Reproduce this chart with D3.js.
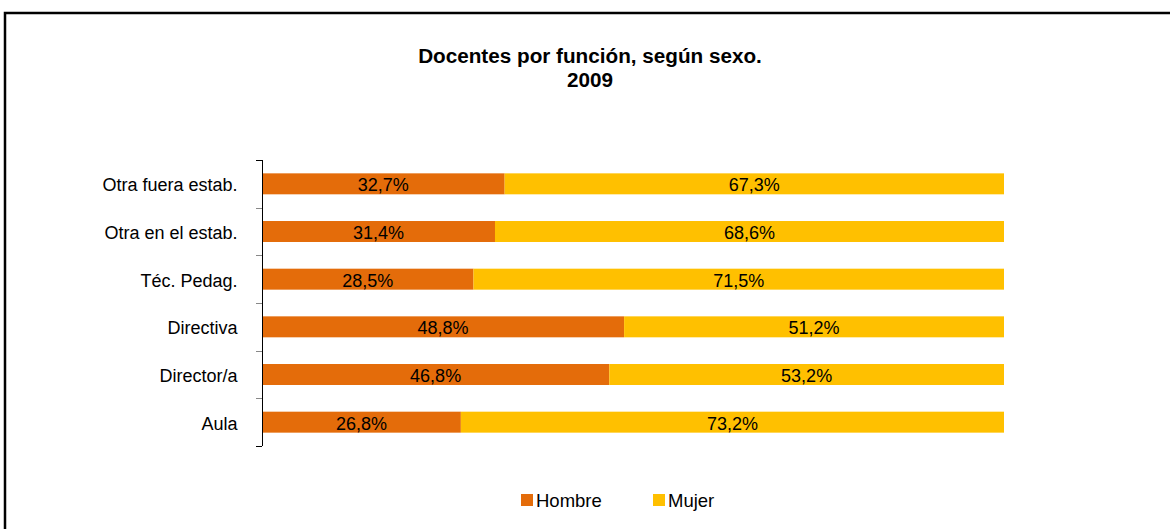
<!DOCTYPE html>
<html><head><meta charset="utf-8">
<script src="https://cdn.jsdelivr.net/npm/d3@7"></script>
<style>body{margin:0;background:#fff}svg{display:block}</style>
</head><body>
<svg id="c" width="1170" height="529"></svg>
<script>
const categories = ["Otra fuera estab.","Otra en el estab.","Téc. Pedag.","Directiva","Director/a","Aula"];
const hombre = [32.7,31.4,28.5,48.8,46.8,26.8];
const mujer  = [67.3,68.6,71.5,51.2,53.2,73.2];
const seriesNames = ["Hombre","Mujer"];
const colors = ["#E46C0A","#FFC000"];
const titleLines = ["Docentes por función, según sexo.","2009"];

const svg = d3.select("#c");
const font = "Liberation Sans, Arial, sans-serif";

// outer border
svg.append("path").attr("d","M5,540 L5,13 L1175,13").attr("fill","none").attr("stroke","#000").attr("stroke-width",2.5);

// title
svg.append("g").selectAll("text").data(titleLines).join("text")
  .attr("x",590).attr("y",(d,i)=>62.5+i*24).attr("text-anchor","middle")
  .attr("font-family",font).attr("font-weight","bold").attr("font-size",20.7).text(d=>d);

const x = d3.scaleLinear().domain([0,100]).range([262,1004]);
const y = d3.scaleBand().domain(categories).range([160,446]).paddingInner(0.56).paddingOuter(0.28);
const y0 = d3.scaleBand().domain(categories).range([160,446]);

const data = categories.map((c,i)=>({cat:c, Hombre:hombre[i], Mujer:mujer[i]}));
const stack = d3.stack().keys(seriesNames)(data);

const g = svg.append("g");
stack.forEach((s,k)=>{
  g.selectAll(null).data(s).join("rect")
    .attr("x",d=>x(d[0])).attr("width",d=>x(d[1])-x(d[0]))
    .attr("y",d=>y(d.data.cat)).attr("height",y.bandwidth())
    .attr("fill",colors[k]);
  g.selectAll(null).data(s).join("text")
    .attr("x",d=>(x(d[0])+x(d[1]))/2).attr("y",d=>y(d.data.cat)+y.bandwidth()/2+7.5)
    .attr("text-anchor","middle").attr("font-family",font).attr("font-size",18).attr("fill","#000")
    .text(d=>(d[1]-d[0]).toFixed(1).replace(".",",")+"%");
});

// axis
const ax = svg.append("g");
ax.append("line").attr("x1",262.5).attr("x2",262.5).attr("y1",160).attr("y2",446).attr("stroke","#000");
const tickYs = categories.map(c=>y0(c)).concat([446]);
ax.selectAll(null).data(tickYs).join("line")
  .attr("x1",256).attr("x2",262).attr("y1",d=>Math.round(d)+0.5).attr("y2",d=>Math.round(d)+0.5)
  .attr("stroke",(d,i)=> (i===0||i===tickYs.length-1)?"#000":"#888");
ax.selectAll(null).data(categories).join("text")
  .attr("x",237.5).attr("y",c=>y0(c)+y0.bandwidth()/2+7.5).attr("text-anchor","end")
  .attr("font-family",font).attr("font-size",18).text(d=>d);

// legend
const lg = svg.append("g");
const lx = [521,653];
seriesNames.forEach((n,i)=>{
  lg.append("rect").attr("x",lx[i]).attr("y",494).attr("width",12).attr("height",12).attr("fill",colors[i]);
  lg.append("text").attr("x",lx[i]+15).attr("y",507).attr("font-family",font).attr("font-size",18.5).text(n);
});
</script>
</body></html>
